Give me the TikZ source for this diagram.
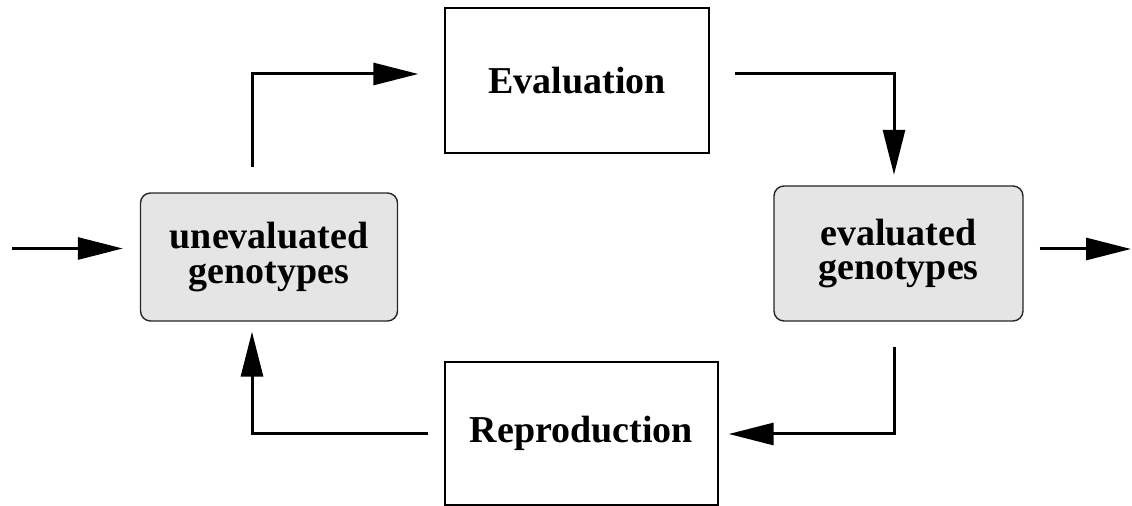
\documentclass[tikz,border=0pt]{standalone}
\usepackage{fontspec}
\setmainfont{Liberation Serif}
\usetikzlibrary{arrows.meta,calc}

\begin{document}
\begin{tikzpicture}[x=0.5pt,y=-0.5pt,
  label font/.style={font=\fontsize{19}{17.2}\selectfont\bfseries, align=center},
  stepbox/.style={draw=black, line width=0.7pt, fill=white, inner sep=0pt, label font},
  poolbox/.style={draw=black!85, line width=0.7pt, fill=black!10, rounded corners=5pt, inner sep=0pt, label font},
  arr/.style={line width=1.5pt, -{Triangle[length=22.5pt,width=11pt]}}
]
  % canvas
  \useasboundingbox (0,0) rectangle (1132,506);

  % process steps
  \node[stepbox, minimum width=132pt, minimum height=72.5pt] (ev) at (577,80.5) {Evaluation};
  \node[stepbox, minimum width=136.5pt, minimum height=71.5pt] (rep) at (581.5,433.5) {Reproduction};

  % genotype pools
  \node[poolbox, minimum width=128.5pt, minimum height=64pt] (unev) at (269,257) {unevaluated\\genotypes};
  \node[poolbox, minimum width=124.5pt, minimum height=67.5pt] (evd) at (898.5,253.5) {evaluated\\genotypes};

  % free ends of the input and output arrows
  \coordinate (in) at (12,248.5);
  \coordinate (out) at (1131,249);

  % input and output
  \draw[arr, shorten >=8.5pt] (in) -- (in -| unev.west);
  \draw[arr] ($(evd.east |- out)+(16,0)$) -- (out);

  % cycle
  \draw[arr] ($(unev.north)+(-17,-25)$) |- ($(ev.west)+(-26,-6.5)$);
  \draw[arr] ($(ev.east)+(25,-6.5)$) -| ($(evd.north)+(-4.5,-10.5)$);
  \draw[arr] ($(evd.south)+(-4.5,25)$) |- ($(rep.east)+(10,0.5)$);
  \draw[arr] ($(rep.west)+(-16,0.5)$) -| ($(unev.south)+(-17,10)$);
\end{tikzpicture}
\end{document}
